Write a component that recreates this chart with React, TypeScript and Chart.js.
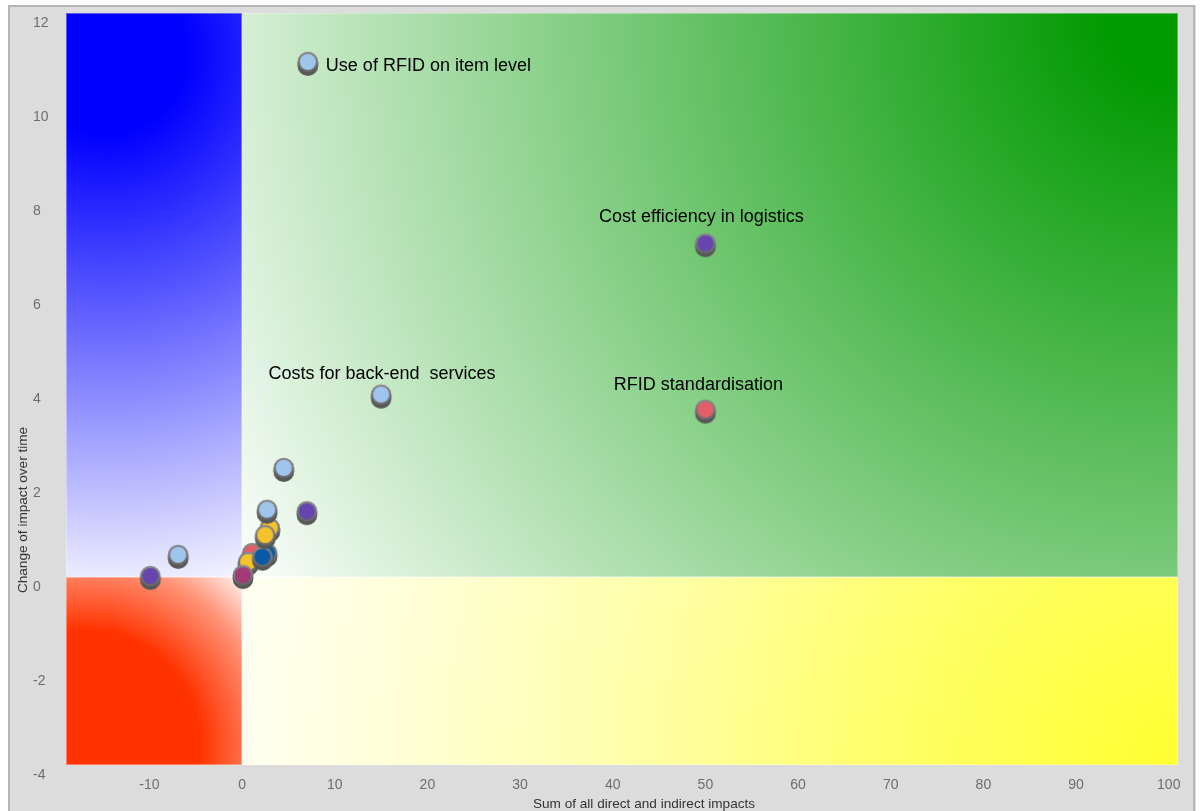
import React, { useEffect, useRef } from 'react';
import { Chart, registerables } from 'chart.js';

Chart.register(...registerables);

// ---- data ----
const xValues = [-9.9, -6.9, 1.1, 2.7, 0.65, 2.2, 0.1, 3.0, 2.5, 2.7, 7.0, 4.5, 15.0, 50.0, 50.0, 7.1];
const yValues = [0.02, 0.47, 0.51, 0.51, 0.32, 0.43, 0.04, 1.04, 0.89, 1.43, 1.4, 2.32, 3.88, 3.56, 7.1, 10.96];
const pointColors = [
  '#6645b0', '#9fc5ec', '#e25f67', '#0b5aa6', '#f4c22b', '#0b5aa6', '#a13b78', '#f4c22b',
  '#f4c22b', '#9fc5ec', '#6645b0', '#9fc5ec', '#9fc5ec', '#e25f67', '#6645b0', '#9fc5ec',
];
const pointLabels = [
  '', '', '', '', '', '', '', '', '', '', '', '',
  'Costs for back-end  services', 'RFID standardisation', 'Cost efficiency in logistics', 'Use of RFID on item level',
];
const xTicks = [-10, 0, 10, 20, 30, 40, 50, 60, 70, 80, 90, 100];
const yTicks = [-4, -2, 0, 2, 4, 6, 8, 10, 12];
const xTitle = 'Sum of all direct and indirect impacts';
const yTitle = 'Change of impact over time';

// label placement (style only)
const labelPlacement: Record<string, { align: CanvasTextAlign; dx: number; dy: number }> = {
  'Costs for back-end  services': { align: 'center', dx: 1, dy: -16 },
  'RFID standardisation': { align: 'center', dx: -7, dy: -20 },
  'Cost efficiency in logistics': { align: 'center', dx: -4, dy: -21 },
  'Use of RFID on item level': { align: 'left', dx: 18, dy: 9.5 },
};

const FONT = '"Liberation Sans", Arial, sans-serif';

function makeMarker(color: string): HTMLCanvasElement {
  const c = document.createElement('canvas');
  c.width = 28;
  c.height = 38;
  const g = c.getContext('2d')!;
  const cx = 14, cy = 19;
  // base / shadow
  g.fillStyle = '#575757';
  g.beginPath();
  g.arc(cx, cy + 3.8, 10.3, 0, Math.PI * 2);
  g.fill();
  g.fillRect(cx - 10.3, cy, 20.6, 3.8);
  // ring
  const rg = g.createLinearGradient(0, cy - 10, 0, cy + 10);
  rg.addColorStop(0, '#8a8a8a');
  rg.addColorStop(1, '#666666');
  g.fillStyle = rg;
  g.beginPath();
  g.arc(cx, cy, 10.3, 0, Math.PI * 2);
  g.fill();
  // fill
  g.fillStyle = color;
  g.beginPath();
  g.arc(cx, cy, 8, 0, Math.PI * 2);
  g.fill();
  return c;
}

const framePlugin = {
  id: 'frame',
  beforeDraw(chart: any) {
    const ctx = chart.ctx as CanvasRenderingContext2D;
    ctx.save();
    ctx.fillStyle = '#ffffff';
    ctx.fillRect(0, 0, chart.width, chart.height);
    ctx.fillStyle = '#dcdcdc';
    ctx.fillRect(8, 5, 1188, chart.height);
    ctx.strokeStyle = '#b6b6b6';
    ctx.lineWidth = 2;
    ctx.beginPath();
    ctx.moveTo(9, chart.height + 2);
    ctx.lineTo(9, 6);
    ctx.lineTo(1194, 6);
    ctx.lineTo(1194, chart.height + 2);
    ctx.stroke();
    ctx.restore();
  },
};

const quadrantPlugin = {
  id: 'quadrants',
  beforeDatasetsDraw(chart: any) {
    const ctx = chart.ctx as CanvasRenderingContext2D;
    const { left, right, top, bottom } = chart.chartArea;
    const x0 = chart.scales.x.getPixelForValue(0);
    const y0 = chart.scales.y.getPixelForValue(0);
    const quad = (
      rx: number, ry: number, rw: number, rh: number,
      cx: number, cy: number, stops: [number, string][]
    ) => {
      const r = Math.hypot(cx - x0, cy - y0);
      const grd = ctx.createRadialGradient(cx, cy, 0, cx, cy, r);
      stops.forEach(([o, c]) => grd.addColorStop(o, c));
      ctx.fillStyle = grd;
      ctx.fillRect(rx, ry, rw, rh);
      ctx.strokeStyle = 'rgba(255,255,255,0.35)';
      ctx.lineWidth = 1;
      ctx.strokeRect(rx + 0.5, ry + 0.5, rw - 1, rh - 1);
    };
    ctx.save();
    quad(left, top, x0 - left, y0 - top, left + 40, top + 40, [[0, '#0000ff'], [0.15, '#0000ff'], [1, '#f4f4ff']]);
    quad(x0, top, right - x0, y0 - top, right, top, [[0, '#009900'], [0.06, '#009900'], [1, '#fcfefc']]);
    quad(left, y0, x0 - left, bottom - y0, left + 20, bottom - 20, [[0, '#ff3300'], [0.5, '#ff3300'], [0.8, '#ff9478'], [1, '#fff6f2']]);
    quad(x0, y0, right - x0, bottom - y0, right, bottom, [
      [0, '#ffff30'], [0.3, '#ffff68'], [0.55, '#ffffa4'], [0.8, '#ffffd4'], [1, '#fffff4'],
    ]);
    ctx.restore();
  },
};

const labelPlugin = {
  id: 'pointLabels',
  afterDatasetsDraw(chart: any) {
    const ctx = chart.ctx as CanvasRenderingContext2D;
    const meta = chart.getDatasetMeta(0);
    ctx.save();
    ctx.font = `18px ${FONT}`;
    ctx.fillStyle = '#000000';
    ctx.textBaseline = 'alphabetic';
    pointLabels.forEach((txt, i) => {
      if (!txt) return;
      const el = meta.data[i];
      const p = labelPlacement[txt];
      ctx.textAlign = p.align;
      ctx.fillText(txt, el.x + p.dx, el.y + p.dy);
    });
    ctx.restore();
  },
};

const titlePlugin = {
  id: 'axisTitles',
  afterDraw(chart: any) {
    const ctx = chart.ctx as CanvasRenderingContext2D;
    ctx.save();
    ctx.font = `13.6px ${FONT}`;
    ctx.fillStyle = '#333333';
    ctx.textAlign = 'center';
    ctx.textBaseline = 'alphabetic';
    ctx.fillText(xTitle, 644, 808);
    ctx.translate(27, 510);
    ctx.rotate(-Math.PI / 2);
    ctx.fillText(yTitle, 0, 0);
    ctx.restore();
  },
};

export default function App() {
  const ref = useRef<HTMLCanvasElement | null>(null);
  useEffect(() => {
    if (!ref.current) return;
    const markers = pointColors.map(makeMarker);
    const chart = new Chart(ref.current, {
      type: 'scatter',
      data: {
        datasets: [
          {
            data: xValues.map((x, i) => ({ x, y: yValues[i] })),
            pointStyle: (c: any) => markers[c.dataIndex],
            pointRadius: 10,
            clip: false as any,
          } as any,
        ],
      },
      options: {
        animation: false,
        responsive: false,
        devicePixelRatio: 1,
        events: [],
        layout: { padding: { left: 33, top: 13, right: 24, bottom: 0 } },
        plugins: { legend: { display: false }, tooltip: { enabled: false } },
        scales: {
          x: {
            type: 'linear',
            min: -19,
            max: 101,
            afterBuildTicks: (s: any) => {
              s.ticks = xTicks.map((v) => ({ value: v }));
            },
            afterFit: (s: any) => {
              s.height = 46;
            },
            grid: { display: false, drawTicks: false },
            border: { display: false },
            ticks: {
              autoSkip: false,
              maxRotation: 0,
              padding: 12,
              color: '#6d6d6d',
              font: { family: FONT, size: 14 },
            },
          },
          y: {
            type: 'linear',
            min: -4,
            max: 12,
            afterBuildTicks: (s: any) => {
              s.ticks = yTicks.map((v) => ({ value: v }));
            },
            afterFit: (s: any) => {
              s.width = 33;
            },
            grid: { display: false, drawTicks: false },
            border: { display: false },
            ticks: {
              autoSkip: false,
              crossAlign: 'far',
              labelOffset: 10,
              padding: 0,
              color: '#6d6d6d',
              font: { family: FONT, size: 14 },
            },
          },
        },
      },
      plugins: [framePlugin, quadrantPlugin, labelPlugin, titlePlugin],
    });
    return () => chart.destroy();
  }, []);
  return (
    <canvas
      ref={ref}
      width={1202}
      height={811}
      style={{ position: 'fixed', left: 0, top: 0, width: 1202, height: 811, display: 'block' }}
    />
  );
}
